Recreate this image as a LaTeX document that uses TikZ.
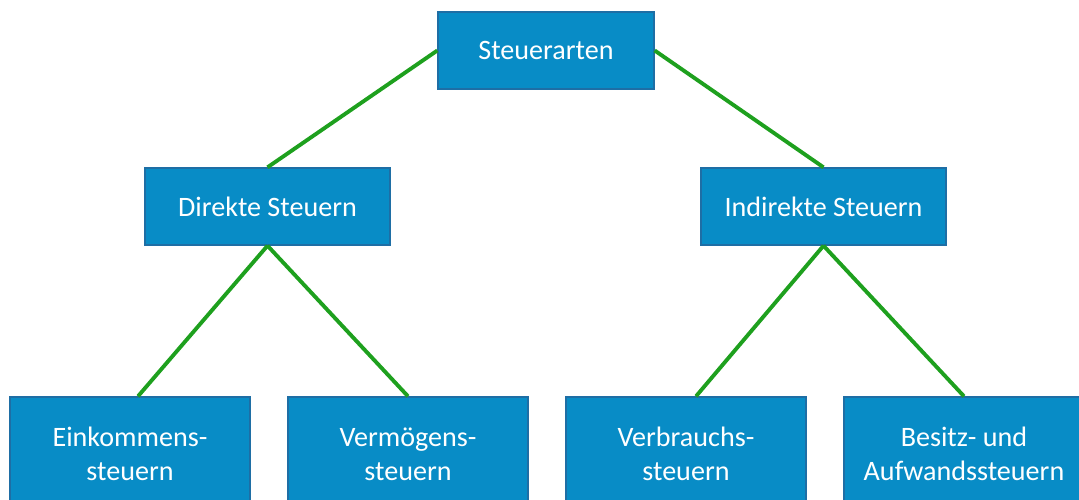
\documentclass[tikz,border=0pt]{standalone}
\usepackage{fontspec}
\setmainfont{Carlito}
\definecolor{boxblue}{RGB}{8,140,198}
\definecolor{boxedge}{RGB}{30,110,165}
\definecolor{linegreen}{RGB}{30,160,30}
\tikzstyle{taxbox}=[shape=rectangle, fill=boxblue, draw=boxedge, line width=0.8pt, text=white, font=\fontsize{16}{19.5}\selectfont, align=center, inner sep=0]
\tikzstyle{upper}=[taxbox, minimum height=1.54cm]
\tikzstyle{lower}=[taxbox, minimum width=4.8cm, minimum height=2.28cm]
\tikzstyle{branch}=[draw=linegreen, line width=2.2pt]

\begin{document}
\begin{tikzpicture}[x=0.02cm, y=-0.02cm]
\clip (0,0) rectangle (1079,500);
\useasboundingbox (0,0) rectangle (1079,500);
\node[upper, minimum width=4.32cm] (arten) at (546,50.5) {Steuerarten};
\node[upper, minimum width=4.9cm] (direkt) at (267.5,206.5) {Direkte Steuern};
\node[upper, minimum width=4.9cm] (indirekt) at (823.5,206.5) {Indirekte Steuern};
\node[lower] (eink) at (130,454) {Einkommens-\\steuern};
\node[lower] (verm) at (408,454) {Verm\"ogens-\\steuern};
\node[lower] (verb) at (686,454) {Verbrauchs-\\steuern};
\node[lower] (besitz) at (964,454) {Besitz- und\\Aufwandssteuern};
\draw[branch] (arten.west)--(direkt.north);
\draw[branch] (arten.east)--(indirekt.north);
\draw[branch] (direkt.south)--([xshift=0.16cm]eink.north);
\draw[branch] (direkt.south)--(verm.north);
\draw[branch] (indirekt.south)--([xshift=0.2cm]verb.north);
\draw[branch] (indirekt.south)--(besitz.north);
\end{tikzpicture}
\end{document}
